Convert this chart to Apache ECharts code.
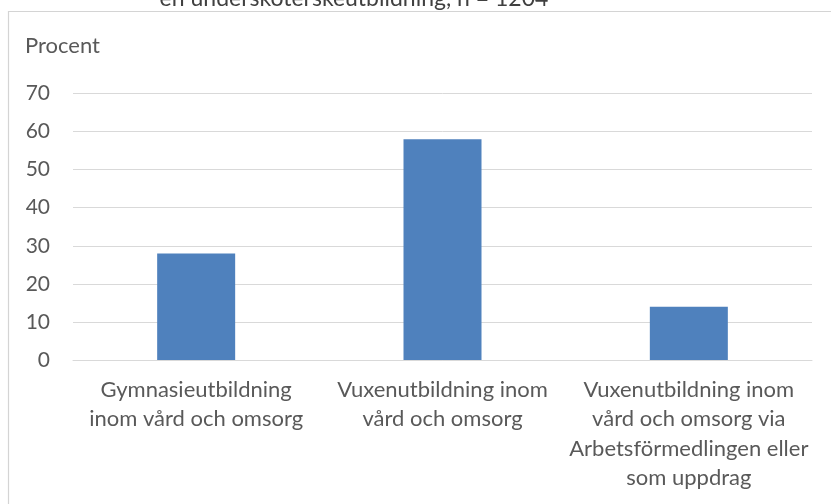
<!DOCTYPE html>
<html>
<head>
<meta charset="utf-8">
<style>
  html, body { margin: 0; padding: 0; background: #ffffff; }
  #chart { width: 831px; height: 504px; }
</style>
<script src="https://cdn.jsdelivr.net/npm/echarts@6/dist/echarts.min.js"></script>
</head>
<body>
<div id="chart"></div>
<script>
// Utbildningsväg till undersköterska, andel i procent
const categories = [
  'Gymnasieutbildning\ninom vård och omsorg',
  'Vuxenutbildning inom\nvård och omsorg',
  'Vuxenutbildning inom\nvård och omsorg via\nArbetsförmedlingen eller\nsom uppdrag'
];
const values = [28, 58, 14];
const yTicks = { min: 0, max: 70, interval: 10 };
const titleText = 'en undersköterskeutbildning, n = 1204';
const axisName = 'Procent';

const FONT = 'Lato';
const TEXT = '#595959';
const GRID = '#D9D9D9';

const chart = echarts.init(document.getElementById('chart'), null, { renderer: 'canvas' });
chart.setOption({
  animation: false,
  backgroundColor: '#ffffff',
  grid: { left: 73, right: 19, top: 93.5, bottom: 144, containLabel: false },
  graphic: [
    {
      type: 'rect',
      silent: true,
      shape: { x: 8.5, y: 11.5, width: 900, height: 600 },
      style: { fill: 'none', stroke: '#D4D4D4', lineWidth: 1.2 }
    },
    {
      type: 'text',
      silent: true,
      style: {
        x: 354, y: 10, text: titleText,
        textAlign: 'center', textVerticalAlign: 'bottom',
        fill: '#404040', font: '23px ' + FONT
      }
    },
    {
      type: 'text',
      silent: true,
      style: {
        x: 25, y: 46, text: axisName,
        textAlign: 'left', textVerticalAlign: 'middle',
        fill: TEXT, font: '22px ' + FONT
      }
    }
  ],
  xAxis: {
    type: 'category',
    data: categories,
    axisLine: { show: true, lineStyle: { color: GRID, width: 1 } },
    axisTick: { show: false },
    axisLabel: {
      color: TEXT, fontFamily: FONT, fontSize: 22,
      lineHeight: 29.5, margin: 15, interval: 0, align: 'center'
    }
  },
  yAxis: {
    type: 'value',
    min: yTicks.min, max: yTicks.max, interval: yTicks.interval,
    axisLine: { show: false },
    axisTick: { show: false },
    splitLine: { lineStyle: { color: GRID, width: 1 } },
    axisLabel: { color: TEXT, fontFamily: FONT, fontSize: 21, margin: 23 }
  },
  series: [{
    type: 'bar',
    data: values,
    barWidth: 78,
    itemStyle: { color: '#4F81BD' }
  }]
});
</script>
</body>
</html>
